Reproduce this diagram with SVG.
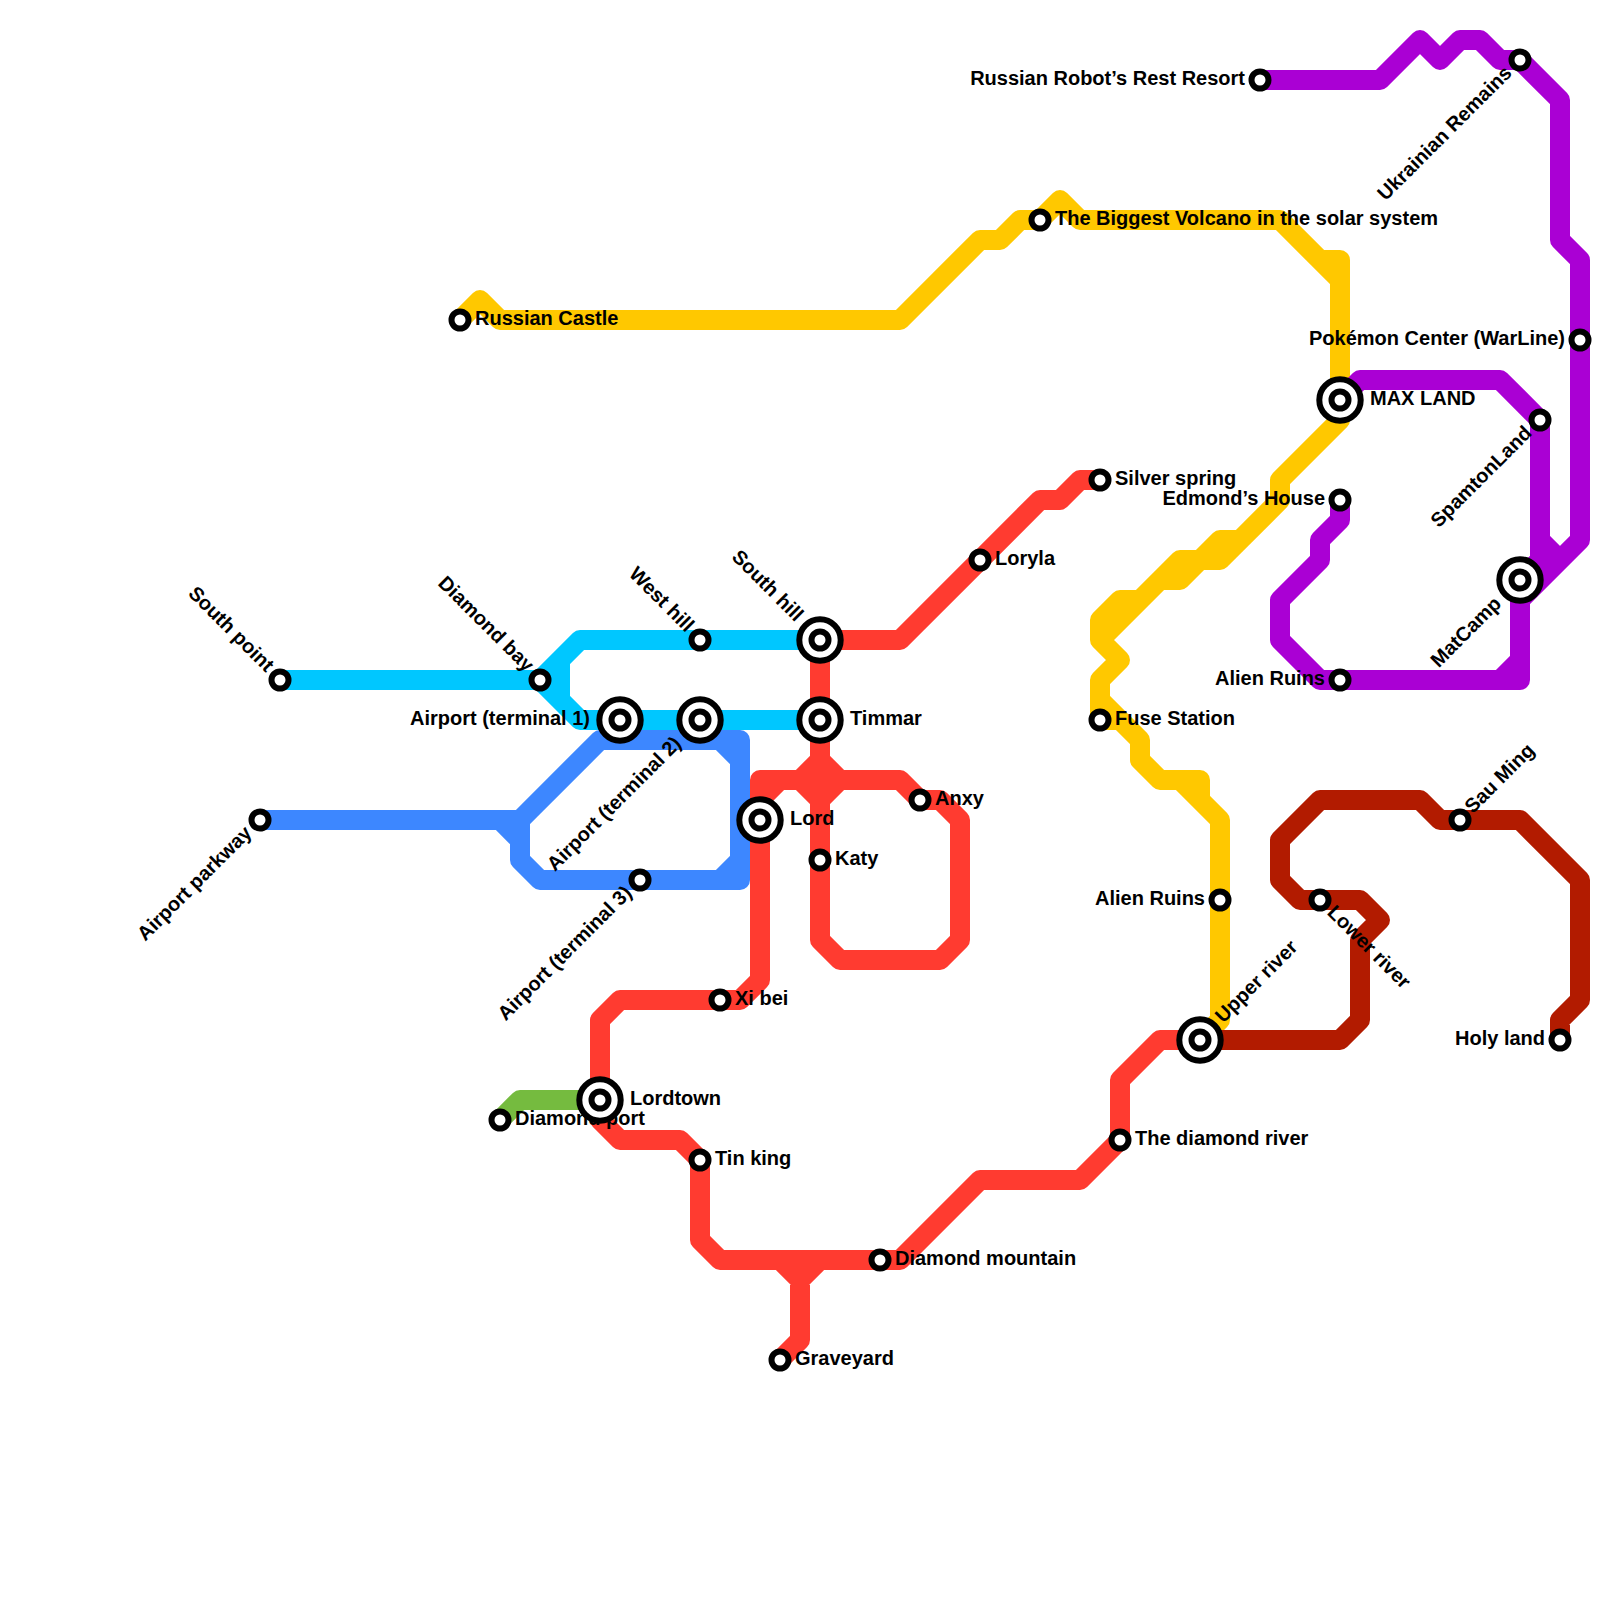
<svg xmlns="http://www.w3.org/2000/svg" width="1600" height="1600" viewBox="0 0 1600 1600">
<style>
.l{fill:none;stroke-width:20;stroke-linejoin:round;stroke-linecap:round}
.s{fill:#fff;stroke:#000;stroke-width:6}
.o{fill:#fff;stroke:#000;stroke-width:6}
.i{fill:#fff;stroke:#000;stroke-width:6}
text{font-family:"Liberation Sans",Arial,sans-serif;font-size:20px;font-weight:700;fill:#000}
.e{text-anchor:end}
</style>
<rect width="1600" height="1600" fill="#fff"/>
<g id="connectors">
<path class="l" stroke="#75bb3f" d="M500 1120L520 1100H600"/>
<path class="l" stroke="#00c7ff" d="M280 680H540L580 640H820M540 680L580 720H820M560 660V700"/>
<path class="l" stroke="#3d87ff" d="M260 820H520V860L540 880H740V740H600L520 820M500 820L520 840M720 740L740 760M720 880L740 860"/>
<path class="l" stroke="#ff3b30" d="M820 640H900L1040 500H1060L1080 480H1100M820 640V940L840 960H940L960 940V820L940 800H920L900 780H760V980L740 1000H620L600 1020V1120L620 1140H680L700 1160V1240L720 1260H900L980 1180H1080L1120 1140V1080L1160 1040H1200M760 800L780 780M820 760L800 780L820 800L840 780L820 760M780 1260L800 1280L820 1260M800 1280V1340L780 1360"/>
<path class="l" stroke="#ffc800" d="M460 320L480 300L500 320H900L980 240H1000L1020 220H1040L1060 200L1080 220H1280L1340 280M1320 260H1340V420L1280 480V500L1240 540H1220L1200 560H1180L1140 600H1120L1100 620V640L1120 660L1100 680V720H1120M1280 500L1220 560H1200L1180 580H1160L1100 640M1100 700L1140 740V760L1160 780H1200V800L1220 820V1020L1200 1040M1180 780L1220 820"/>
<path class="l" stroke="#b21b00" d="M1200 1040H1340L1360 1020V940L1380 920L1360 900H1300L1280 880V840L1320 800H1420L1440 820H1520L1580 880V1000L1560 1020V1040"/>
<path class="l" stroke="#aa00d4" d="M1260 80H1380L1420 40L1440 60L1460 40H1480L1500 60H1520L1560 100V240L1580 260V540L1520 600M1340 400L1360 380H1500L1540 420V560L1520 580V680H1320L1280 640V600L1320 560V540L1340 520V500M1540 540L1560 560M1500 680L1520 660"/>
</g>
<g id="south-point" transform="translate(280 680)"><text class="e" transform="rotate(45)" x="-15" y="5">South point</text><circle class="s" r="8.5"/></g>
<g id="diamond-bay" transform="translate(540 680)"><text class="e" transform="rotate(45)" x="-15" y="5">Diamond bay</text><circle class="s" r="8.5"/></g>
<g id="west-hill" transform="translate(700 640)"><text class="e" transform="rotate(45)" x="-15" y="5">West hill</text><circle class="s" r="8.5"/></g>
<g id="south-hill" transform="translate(820 640)"><text class="e" transform="rotate(45)" x="-30" y="5">South hill</text><circle class="o" r="20.7"/><circle class="i" r="8.5"/></g>
<g id="timmar" transform="translate(820 720)"><text x="30" y="5">Timmar</text><circle class="o" r="20.7"/><circle class="i" r="8.5"/></g>
<g id="airport-t1" transform="translate(620 720)"><text class="e" x="-30" y="5">Airport (terminal 1)</text><circle class="o" r="20.7"/><circle class="i" r="8.5"/></g>
<g id="airport-t2" transform="translate(700 720)"><text class="e" transform="rotate(-45)" x="-30" y="5">Airport (terminal 2)</text><circle class="o" r="20.7"/><circle class="i" r="8.5"/></g>
<g id="airport-t3" transform="translate(640 880)"><text class="e" transform="rotate(-45)" x="-15" y="5">Airport (terminal 3)</text><circle class="s" r="8.5"/></g>
<g id="airport-parkway" transform="translate(260 820)"><text class="e" transform="rotate(-45)" x="-15" y="5">Airport parkway</text><circle class="s" r="8.5"/></g>
<g id="lord" transform="translate(760 820)"><text x="30" y="5">Lord</text><circle class="o" r="20.7"/><circle class="i" r="8.5"/></g>
<g id="katy" transform="translate(820 860)"><text x="15" y="5">Katy</text><circle class="s" r="8.5"/></g>
<g id="anxy" transform="translate(920 800)"><text x="15" y="5">Anxy</text><circle class="s" r="8.5"/></g>
<g id="loryla" transform="translate(980 560)"><text x="15" y="5">Loryla</text><circle class="s" r="8.5"/></g>
<g id="silver-spring" transform="translate(1100 480)"><text x="15" y="5">Silver spring</text><circle class="s" r="8.5"/></g>
<g id="xi-bei" transform="translate(720 1000)"><text x="15" y="5">Xi bei</text><circle class="s" r="8.5"/></g>
<g id="diamond-port" transform="translate(500 1120)"><text x="15" y="5">Diamond port</text><circle class="s" r="8.5"/></g>
<g id="lordtown" transform="translate(600 1100)"><text x="30" y="5">Lordtown</text><circle class="o" r="20.7"/><circle class="i" r="8.5"/></g>
<g id="tin-king" transform="translate(700 1160)"><text x="15" y="5">Tin king</text><circle class="s" r="8.5"/></g>
<g id="diamond-mountain" transform="translate(880 1260)"><text x="15" y="5">Diamond mountain</text><circle class="s" r="8.5"/></g>
<g id="graveyard" transform="translate(780 1360)"><text x="15" y="5">Graveyard</text><circle class="s" r="8.5"/></g>
<g id="diamond-river" transform="translate(1120 1140)"><text x="15" y="5">The diamond river</text><circle class="s" r="8.5"/></g>
<g id="upper-river" transform="translate(1200 1040)"><text transform="rotate(-45)" x="28" y="5">Upper river</text><circle class="o" r="20.7"/><circle class="i" r="8.5"/></g>
<g id="russian-castle" transform="translate(460 320)"><text x="15" y="5">Russian Castle</text><circle class="s" r="8.5"/></g>
<g id="biggest-volcano" transform="translate(1040 220)"><text x="15" y="5">The Biggest Volcano in the solar system</text><circle class="s" r="8.5"/></g>
<g id="max-land" transform="translate(1340 400)"><text x="30" y="5">MAX LAND</text><circle class="o" r="20.7"/><circle class="i" r="8.5"/></g>
<g id="fuse-station" transform="translate(1100 720)"><text x="15" y="5">Fuse Station</text><circle class="s" r="8.5"/></g>
<g id="alien-ruins-yellow" transform="translate(1220 900)"><text class="e" x="-15" y="5">Alien Ruins</text><circle class="s" r="8.5"/></g>
<g id="lower-river" transform="translate(1320 900)"><text transform="rotate(45)" x="14" y="5">Lower river</text><circle class="s" r="8.5"/></g>
<g id="sau-ming" transform="translate(1460 820)"><text transform="rotate(-45)" x="13" y="5">Sau Ming</text><circle class="s" r="8.5"/></g>
<g id="holy-land" transform="translate(1560 1040)"><text class="e" x="-15" y="5">Holy land</text><circle class="s" r="8.5"/></g>
<g id="russian-robot" transform="translate(1260 80)"><text class="e" x="-15" y="5">Russian Robot’s Rest Resort</text><circle class="s" r="8.5"/></g>
<g id="ukrainian-remains" transform="translate(1520 60)"><text class="e" transform="rotate(-45)" x="-15" y="5">Ukrainian Remains</text><circle class="s" r="8.5"/></g>
<g id="pokemon-center" transform="translate(1580 340)"><text class="e" x="-15" y="5">Pokémon Center (WarLine)</text><circle class="s" r="8.5"/></g>
<g id="spamtonland" transform="translate(1540 420)"><text class="e" transform="rotate(-45)" x="-15" y="5">SpamtonLand</text><circle class="s" r="8.5"/></g>
<g id="edmonds-house" transform="translate(1340 500)"><text class="e" x="-15" y="5">Edmond’s House</text><circle class="s" r="8.5"/></g>
<g id="matcamp" transform="translate(1520 580)"><text class="e" transform="rotate(-45)" x="-30" y="5">MatCamp</text><circle class="o" r="20.7"/><circle class="i" r="8.5"/></g>
<g id="alien-ruins-purple" transform="translate(1340 680)"><text class="e" x="-15" y="5">Alien Ruins</text><circle class="s" r="8.5"/></g>
</svg>
